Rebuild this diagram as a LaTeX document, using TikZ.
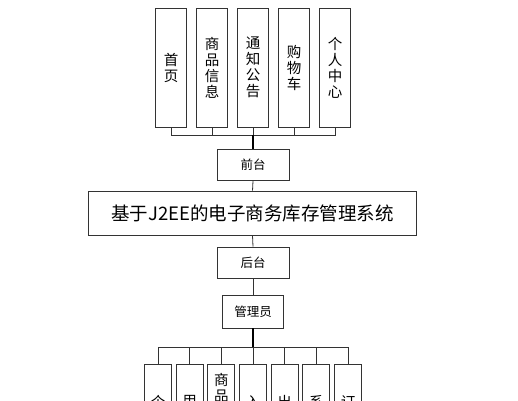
\documentclass[tikz,border=0pt]{standalone}
\usepackage{fontspec}
\setmainfont{Noto Sans CJK SC}
\begin{document}
\begin{tikzpicture}[x=1pt,y=-1pt,
  box/.style={draw=black!80,line width=0.8pt,fill=white,inner sep=0pt},
  vbox/.style={box,minimum width=31pt,minimum height=119pt,align=center,
    font=\fontsize{14.5}{16}\selectfont},
  hbox/.style={box,minimum width=72pt,minimum height=31pt,font=\fontsize{12.5}{14}\selectfont},
  bbox/.style={box,minimum width=27pt,minimum height=96pt},
  btxt/.style={inner sep=0pt,font=\fontsize{14.5}{16}\selectfont,align=center},
  conn/.style={draw=black!80,line width=0.8pt}]
\useasboundingbox (0,0) rectangle (518,400);
\clip (0,0) rectangle (518,400);
% top boxes
\node[vbox] (t1) at (171,67.5) {首\\页};
\node[vbox] (t2) at (212,67.5) {商\\品\\信\\息};
\node[vbox] (t3) at (253,67.5) {通\\知\\公\\告};
\node[vbox] (t4) at (294,67.5) {购\\物\\车};
\node[vbox] (t5) at (335,67.5) {个\\人\\中\\心};
\coordinate (b1) at (253,135);
\foreach \i in {1,...,5} \draw[conn] (t\i.south) |- (b1);
% middle chain
\node[hbox] (qt) at (253,165) {前台};
\node[box,minimum width=328pt,minimum height=44pt,font=\fontsize{18.5}{20}\selectfont] (sys) at (252.5,213) {基于J2EE的电子商务库存管理系统};
\node[hbox] (ht) at (253,262.5) {后台};
\node[box,minimum width=61pt,minimum height=33pt,font=\fontsize{12.5}{14}\selectfont] (gly) at (253,311.5) {管理员};
\draw[conn,line width=1.2pt,draw=black] (b1) -- (qt.north);
\draw[conn] (qt.south) -- (sys.north);
\draw[conn] (sys.south) -- (ht.north);
\draw[conn] (ht.south) -- (gly.north);
% bottom boxes
\coordinate (b2) at (253,347);
\draw[conn,line width=1.2pt,draw=black] (gly.south) -- (b2);
\foreach \i/\x in {1/158,2/189.7,3/221.3,4/253,5/284.7,6/316.3,7/348}{
  \node[bbox] (d\i) at (\x,412) {};
  \draw[conn] (b2) -| (d\i.north);
}
\node[btxt] (x1) at (158,402) {个};
\node[btxt] (x2) at (189.7,402) {用};
\node[btxt] (x3) at (221.3,388) {商\\品};
\node[btxt] (x4) at (253,402) {入};
\node[btxt] (x5) at (284.7,402) {出};
\node[btxt] (x6) at (316.3,402) {系};
\node[btxt] (x7) at (348,402) {订};
\end{tikzpicture}
\end{document}
